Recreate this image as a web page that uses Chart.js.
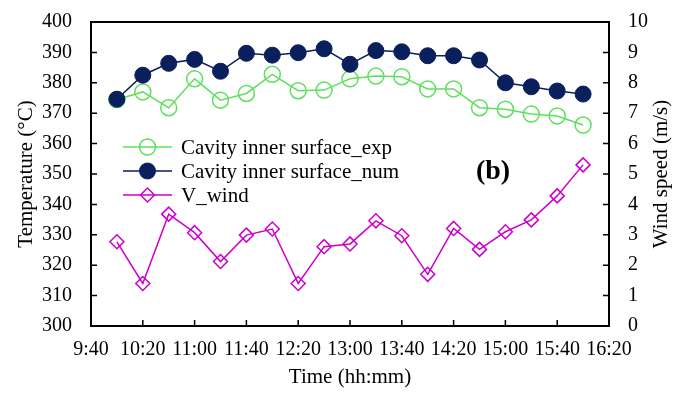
<!DOCTYPE html>
<html>
<head>
<meta charset="utf-8">
<script src="https://cdn.jsdelivr.net/npm/chart.js@4.4.1/dist/chart.umd.min.js"></script>
<style>
  html, body { margin: 0; padding: 0; background: #fff; }
  #wrap { width: 685px; height: 394px; }
</style>
</head>
<body>
<div id="wrap"><canvas id="myChart"></canvas></div>
<script>
// data
const timeLabels = ['10:00', '10:20', '10:40', '11:00', '11:20', '11:40', '12:00', '12:20', '12:40', '13:00',
  '13:20', '13:40', '14:00', '14:20', '14:40', '15:00', '15:20', '15:40', '16:00'];
const expTemp = [374.5, 377.0, 371.8, 381.3, 374.3, 376.5, 382.8, 377.4, 377.6, 381.3,
  382.2, 382.0, 378.0, 378.0, 371.8, 371.3, 369.7, 369.1, 366.1];
const numTemp = [374.6, 382.5, 386.4, 387.7, 383.8, 389.7, 389.1, 389.9, 391.2, 386.1,
  390.6, 390.2, 388.9, 388.9, 387.5, 380.0, 378.7, 377.3, 376.3];
const windSpeed = [2.77, 1.40, 3.68, 3.07, 2.12, 2.99, 3.19, 1.40, 2.61, 2.70,
  3.46, 2.97, 1.70, 3.21, 2.52, 3.10, 3.49, 4.28, 5.30];
const seriesNames = ['Cavity inner surface_exp', 'Cavity inner surface_num', 'V_wind'];
const xRange = ['9:40', '16:20'];

const toMin = s => { const p = s.split(':'); return (+p[0]) * 60 + (+p[1]); };
const fmt = v => Math.floor(v / 60) + ':' + String(v % 60).padStart(2, '0');
const pts = arr => timeLabels.map((t, i) => ({ x: toMin(t), y: arr[i] }));

const FONT = 'Liberation Serif';

// frame, inward ticks, legend, right title and panel label
const decor = {
  id: 'decor',
  beforeDatasetsDraw(chart) {
    const { ctx, chartArea: a, scales } = chart;
    ctx.save();
    ctx.strokeStyle = '#000';
    ctx.lineWidth = 2;
    ctx.strokeRect(a.left, a.top, a.right - a.left, a.bottom - a.top);
    ctx.lineWidth = 1.5;
    ctx.beginPath();
    scales.x.ticks.forEach(t => {
      const px = scales.x.getPixelForValue(t.value);
      ctx.moveTo(px, a.bottom); ctx.lineTo(px, a.bottom - 6);
    });
    scales.y.ticks.forEach(t => {
      const py = scales.y.getPixelForValue(t.value);
      ctx.moveTo(a.left, py); ctx.lineTo(a.left + 6, py);
    });
    scales.y2.ticks.forEach(t => {
      const py = scales.y2.getPixelForValue(t.value);
      ctx.moveTo(a.right, py); ctx.lineTo(a.right - 6, py);
    });
    ctx.stroke();

    // right axis title, reading upwards like the left one
    ctx.fillStyle = '#000';
    ctx.font = '21px "' + FONT + '"';
    ctx.textAlign = 'center';
    ctx.textBaseline = 'middle';
    ctx.translate(a.right + 52, (a.top + a.bottom) / 2);
    ctx.rotate(-Math.PI / 2);
    ctx.fillText('Wind speed (m/s)', 0, 0);
    ctx.restore();
  },
  afterDatasetsDraw(chart) {
    const { ctx, chartArea: a } = chart;
    ctx.save();
    const x0 = a.left + 32, x1 = a.left + 81, y0 = a.top + 125, dy = 24;
    chart.data.datasets.forEach((ds, i) => {
      const y = y0 + i * dy;
      ctx.strokeStyle = ds.borderColor;
      ctx.lineWidth = ds.borderWidth;
      ctx.beginPath(); ctx.moveTo(x0, y); ctx.lineTo(x1, y); ctx.stroke();
      ctx.fillStyle = ds.pointBackgroundColor;
      ctx.strokeStyle = ds.pointBorderColor;
      ctx.lineWidth = ds.pointBorderWidth;
      Chart.helpers.drawPoint(ctx, { pointStyle: ds.pointStyle, radius: ds.pointRadius, rotation: 0, borderWidth: ds.pointBorderWidth }, (x0 + x1) / 2, y);
      ctx.fillStyle = '#000';
      ctx.font = '21px "' + FONT + '"';
      ctx.textBaseline = 'middle';
      ctx.textAlign = 'left';
      ctx.fillText(ds.label, x1 + 9, y + 1);
    });
    ctx.font = 'bold 28px "' + FONT + '"';
    ctx.textAlign = 'center';
    ctx.fillText('(b)', a.left + 402, a.top + 150);
    ctx.restore();
  }
};

const config = {
  type: 'line',
  data: {
    datasets: [
      {
        label: seriesNames[0], data: pts(expTemp), yAxisID: 'y', order: 1,
        borderColor: '#5ee05e', borderWidth: 1.5,
        pointStyle: 'circle', pointRadius: 8, pointBorderWidth: 1.5,
        pointBorderColor: '#5ee05e', pointBackgroundColor: 'rgba(0,0,0,0)'
      },
      {
        label: seriesNames[1], data: pts(numTemp), yAxisID: 'y', order: 0,
        borderColor: '#0a1f5c', borderWidth: 1.5,
        pointStyle: 'circle', pointRadius: 8, pointBorderWidth: 1,
        pointBorderColor: '#0a1f5c', pointBackgroundColor: '#0a1f5c'
      },
      {
        label: seriesNames[2], data: pts(windSpeed), yAxisID: 'y2', order: 2,
        borderColor: '#cc00cc', borderWidth: 1.5,
        pointStyle: 'rectRot', pointRadius: 7, pointBorderWidth: 1.5,
        pointBorderColor: '#cc00cc', pointBackgroundColor: 'rgba(0,0,0,0)'
      }
    ]
  },
  options: {
    responsive: true,
    maintainAspectRatio: false,
    animation: false,
    layout: { padding: { left: 0, right: 0, top: 22, bottom: 0 } },
    plugins: { legend: { display: false }, tooltip: { enabled: false } },
    elements: { line: { tension: 0 } },
    scales: {
      x: {
        type: 'linear', min: toMin(xRange[0]), max: toMin(xRange[1]),
        grid: { display: false, drawTicks: false },
        border: { display: false },
        afterFit: s => { s.height = 68; s.paddingLeft = 0; s.paddingRight = 0; },
        ticks: {
          stepSize: 40, padding: 12, color: '#000', maxRotation: 0, autoSkip: false,
          font: { family: FONT, size: 20 },
          callback: v => fmt(v)
        },
        title: { display: true, text: 'Time (hh:mm)', color: '#000', padding: { top: 12 }, font: { family: FONT, size: 21 } }
      },
      y: {
        position: 'left', min: 300, max: 400,
        grid: { display: false, drawTicks: false },
        border: { display: false },
        afterFit: s => { s.width = 91; s.paddingTop = 0; s.paddingBottom = 0; },
        ticks: { stepSize: 10, padding: 19, color: '#000', font: { family: FONT, size: 20 } },
        title: { display: true, text: 'Temperature (°C)', color: '#000', padding: { top: 14, bottom: 0 }, font: { family: FONT, size: 21 } }
      },
      y2: {
        position: 'right', min: 0, max: 10,
        grid: { display: false, drawTicks: false },
        border: { display: false },
        afterFit: s => { s.width = 76; s.paddingTop = 0; s.paddingBottom = 0; },
        ticks: { stepSize: 1, padding: 19, color: '#000', font: { family: FONT, size: 20 } }
      }
    }
  },
  plugins: [decor]
};

const myChart = new Chart(document.getElementById('myChart'), config);
</script>
</body>
</html>
